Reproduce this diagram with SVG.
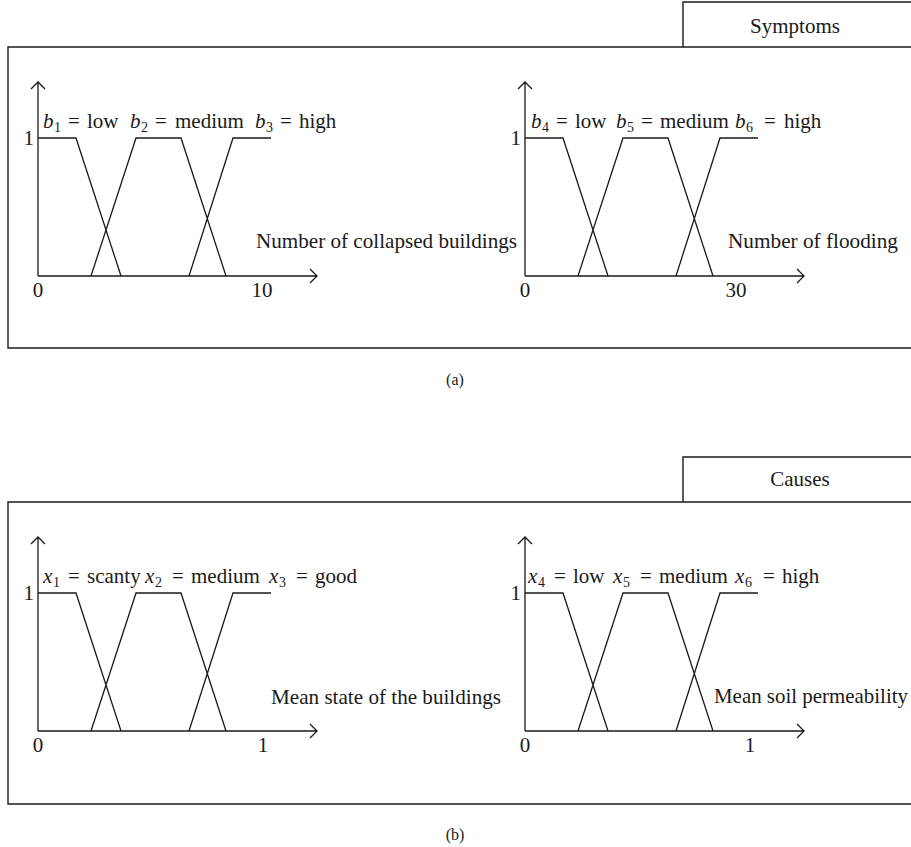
<svg xmlns="http://www.w3.org/2000/svg" width="911" height="847" viewBox="0 0 911 847">
<defs>
<style>
.ln{fill:none;stroke:#1a1a1a;stroke-width:1.3}
.bx{fill:none;stroke:#1a1a1a;stroke-width:1.4}
text{font-family:"Liberation Serif","Times New Roman",serif;font-size:21px;fill:#1a1a1a}
.i{font-style:italic}
.s{font-size:14px}
.m{text-anchor:middle}
.e{text-anchor:end}
</style>
<g id="chart">
<path class="ln" d="M38,276 V82 M31,89 L38,82 L45,89 M38,276 H317 M310,269 L317,276 L310,283"/>
<path class="ln" d="M38,138 H76 L121,276 M91,276 L136,138 H181 L226,276 M189,276 L233,138 H271"/>
<text x="34" y="145" class="e">1</text>
<text x="38" y="297" class="m">0</text>
</g>
</defs>
<rect width="911" height="847" fill="#fff"/>
<g id="panel-a">
<path class="bx" d="M912,47 H8 V348 H912"/>
<g id="tab-symptoms"><path class="bx" d="M912,2 H683 V47"/><text x="795" y="33" class="m">Symptoms</text></g>
<g id="chart-collapsed">
<use href="#chart"/>
<text x="262" y="297" class="m">10</text>
<text x="256" y="248" textLength="261" lengthAdjust="spacingAndGlyphs">Number of collapsed buildings</text>
<text y="128"><tspan x="43" class="i">b</tspan><tspan x="54" dy="4" class="s">1</tspan><tspan x="68" dy="-4">=</tspan><tspan x="87">low</tspan><tspan x="130" class="i">b</tspan><tspan x="141" dy="4" class="s">2</tspan><tspan x="155" dy="-4">=</tspan><tspan x="175">medium</tspan><tspan x="255" class="i">b</tspan><tspan x="266" dy="4" class="s">3</tspan><tspan x="280" dy="-4">=</tspan><tspan x="299">high</tspan></text>
</g>
<g id="chart-flooding">
<use href="#chart" x="487"/>
<text x="736" y="297" class="m">30</text>
<text x="728" y="248" textLength="170" lengthAdjust="spacingAndGlyphs">Number of flooding</text>
<text y="128"><tspan x="531" class="i">b</tspan><tspan x="542" dy="4" class="s">4</tspan><tspan x="556" dy="-4">=</tspan><tspan x="575">low</tspan><tspan x="616" class="i">b</tspan><tspan x="627" dy="4" class="s">5</tspan><tspan x="641" dy="-4">=</tspan><tspan x="660">medium</tspan><tspan x="735" class="i">b</tspan><tspan x="746" dy="4" class="s">6</tspan><tspan x="764" dy="-4">=</tspan><tspan x="784">high</tspan></text>
</g>
<text x="455" y="385" class="m" style="font-size:16px">(a)</text>
</g>
<g id="panel-b">
<path class="bx" d="M912,502 H8 V804 H912"/>
<g id="tab-causes"><path class="bx" d="M912,457 H683 V502"/><text x="800" y="486" class="m">Causes</text></g>
<g id="chart-buildings">
<use href="#chart" y="455"/>
<text x="263" y="752" class="m">1</text>
<text x="271" y="704" textLength="230" lengthAdjust="spacingAndGlyphs">Mean state of the buildings</text>
<text y="583"><tspan x="43" class="i">x</tspan><tspan x="53" dy="4" class="s">1</tspan><tspan x="68" dy="-4">=</tspan><tspan x="87">scanty</tspan><tspan x="145" class="i">x</tspan><tspan x="155" dy="4" class="s">2</tspan><tspan x="172" dy="-4">=</tspan><tspan x="191">medium</tspan><tspan x="269" class="i">x</tspan><tspan x="279" dy="4" class="s">3</tspan><tspan x="296" dy="-4">=</tspan><tspan x="315">good</tspan></text>
</g>
<g id="chart-soil">
<use href="#chart" x="487" y="455"/>
<text x="750" y="752" class="m">1</text>
<text x="714" y="703" textLength="194" lengthAdjust="spacingAndGlyphs">Mean soil permeability</text>
<text y="583"><tspan x="528" class="i">x</tspan><tspan x="538" dy="4" class="s">4</tspan><tspan x="554" dy="-4">=</tspan><tspan x="573">low</tspan><tspan x="613" class="i">x</tspan><tspan x="623" dy="4" class="s">5</tspan><tspan x="640" dy="-4">=</tspan><tspan x="659">medium</tspan><tspan x="735" class="i">x</tspan><tspan x="745" dy="4" class="s">6</tspan><tspan x="763" dy="-4">=</tspan><tspan x="782">high</tspan></text>
</g>
<text x="455" y="840" class="m" style="font-size:16px">(b)</text>
</g>
</svg>
